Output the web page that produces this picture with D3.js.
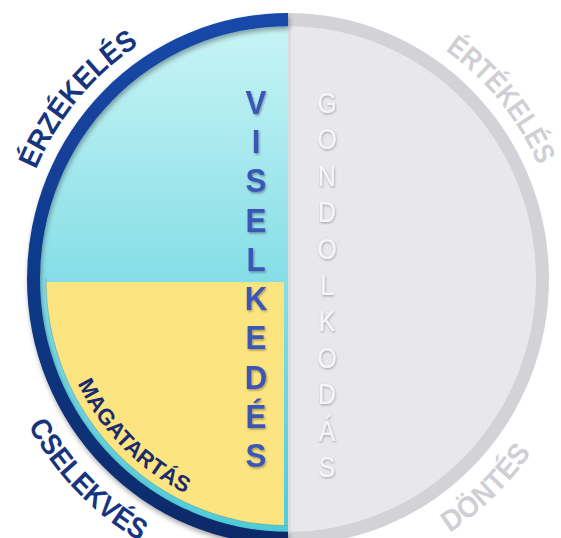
<!DOCTYPE html>
<html>
<head>
<meta charset="utf-8">
<script src="https://cdn.jsdelivr.net/npm/d3@7"></script>
<style>
  html, body { margin: 0; padding: 0; background: #fff; }
  svg { display: block; }
</style>
</head>
<body>
<div id="chart"></div>
<script>
// labels round the ring and their angular spans (degrees, 0 = 3 o'clock, clockwise)
const ringLabels = ["ÉRZÉKELÉS", "ÉRTÉKELÉS", "CSELEKVÉS", "DÖNTÉS"];
const ringFrom = [203, 305, 151, 57];
const ringTo = [237, 336, 120, 35];
const ringActive = [true, false, true, false];

// the two halves, written top to bottom
const halfWords = ["VISELKEDÉS", "GONDOLKODÁS"];
// the filled quadrant
const quadLabel = "MAGATARTÁS";
const quadFrom = 154, quadTo = 116;

const W = 561, H = 538;
const cx = 288, cy = 279;
const squash = 266 / 261; // picture is a bit taller than wide
const rOuter = 261, ringW = 13, rYellow = 242;

const svg = d3.select("#chart").append("svg")
  .attr("width", W).attr("height", H);
const defs = svg.append("defs");

let grad = (id, stops, y1, y2) => {
  let g = defs.append("linearGradient").attr("id", id)
    .attr("gradientUnits", "userSpaceOnUse")
    .attr("x1", 0).attr("x2", 0).attr("y1", y1).attr("y2", y2);
  stops.forEach(s => g.append("stop").attr("offset", s[0]).attr("stop-color", s[1]));
};
grad("cyanFill", [[0, "#cbf5f6"], [0.5, "#86dee7"], [1, "#4ccbd8"]], -rOuter, rOuter);
grad("blueRing", [[0, "#1549aa"], [1, "#0b2a68"]], -rOuter, rOuter);
grad("viselText", [[0, "#3a56b6"], [0.45, "#283f98"], [1, "#17256a"]], 85, 470);

let shadow = (id, dx, dy, blur, op) => {
  defs.append("filter").attr("id", id)
    .attr("x", "-20%").attr("y", "-20%").attr("width", "140%").attr("height", "140%")
    .append("feDropShadow")
    .attr("dx", dx).attr("dy", dy).attr("stdDeviation", blur)
    .attr("flood-color", "#000").attr("flood-opacity", op);
};
shadow("ringShadow", 1, 3, 2.5, 0.35);
shadow("textShadow", 1, 1.5, 1, 0.35);
shadow("ghostShadow", 0.6, 1.2, 1, 0.3);

defs.append("clipPath").attr("id", "yellowClip")
  .append("circle").attr("r", rYellow);

const g = svg.append("g")
  .attr("transform", `translate(${cx},${cy}) scale(1,${squash})`);

const rad = d => d * Math.PI / 180;
const arc = d3.arc();

// halves
g.append("path")
  .attr("d", arc({innerRadius: 0, outerRadius: rOuter - ringW / 2, startAngle: Math.PI, endAngle: 2 * Math.PI}))
  .attr("fill", "url(#cyanFill)");
g.append("path")
  .attr("d", arc({innerRadius: 0, outerRadius: rOuter - ringW / 2, startAngle: 0, endAngle: Math.PI}))
  .attr("fill", "#e8e8ec");
g.append("rect")
  .attr("x", 0).attr("y", -rOuter + 4).attr("width", 3).attr("height", 2 * rOuter - 8)
  .attr("fill", "#dcdce0");

// yellow quadrant
g.append("rect")
  .attr("clip-path", "url(#yellowClip)")
  .attr("x", -rYellow).attr("y", 3).attr("width", rYellow - 4).attr("height", rYellow)
  .attr("fill", "#fce580");
g.append("path")
  .attr("d", arc({innerRadius: rYellow - 0.5, outerRadius: rYellow + 0.5, startAngle: Math.PI, endAngle: 1.5 * Math.PI}))
  .attr("fill", "#5f9aa0").attr("opacity", 0.55);

// ring
g.append("path")
  .attr("d", arc({innerRadius: rOuter - ringW, outerRadius: rOuter, startAngle: 0, endAngle: Math.PI}))
  .attr("fill", "#d3d3d7");
g.append("path")
  .attr("filter", "url(#ringShadow)")
  .attr("d", arc({innerRadius: rOuter - ringW, outerRadius: rOuter, startAngle: Math.PI, endAngle: 2 * Math.PI}))
  .attr("fill", "url(#blueRing)");

// curved labels
let arcPath = (r, a0, a1) => {
  let p = d3.path();
  p.arc(0, 0, r, rad(a0), rad(a1), a1 < a0);
  return p.toString();
};

ringLabels.forEach((label, i) => {
  let ccw = ringTo[i] < ringFrom[i];
  // top labels sit on the baseline, bottom ones hang inward from it
  let r = ccw ? 297 : 274;
  let id = "ring" + i;
  defs.append("path").attr("id", id).attr("d", arcPath(r, ringFrom[i], ringTo[i]));
  g.append("text")
    .attr("font-family", "'Liberation Sans Narrow', 'Arial Narrow', 'Liberation Sans', Arial, sans-serif")
    .attr("font-weight", "bold")
    .attr("font-size", 29)
    .attr("fill", ringActive[i] ? "#17347e" : "#d0d0d4")
    .append("textPath")
    .attr("href", "#" + id)
    .attr("textLength", Math.abs(rad(ringTo[i] - ringFrom[i])) * r)
    .attr("lengthAdjust", "spacingAndGlyphs")
    .text(label);
});

defs.append("path").attr("id", "quadPath").attr("d", arcPath(234, quadFrom, quadTo));
g.append("text")
  .attr("font-family", "'Liberation Sans Narrow', 'Arial Narrow', 'Liberation Sans', Arial, sans-serif")
  .attr("font-weight", "bold")
  .attr("font-size", 22)
  .attr("fill", "#1a2a6c")
  .append("textPath")
  .attr("href", "#quadPath")
  .attr("textLength", rad(quadFrom - quadTo) * 234)
  .attr("lengthAdjust", "spacingAndGlyphs")
  .text(quadLabel);

// vertical words
const viselY = d3.scaleLinear().domain([0, halfWords[0].length - 1]).range([114, 467]);
svg.append("g")
  .attr("filter", "url(#textShadow)")
  .selectAll("text")
  .data(Array.from(halfWords[0]))
  .join("text")
  .attr("transform", (d, i) => `translate(256,${viselY(i)}) scale(0.92,1)`)
  .attr("text-anchor", "middle")
  .attr("font-family", "'Liberation Sans', Arial, sans-serif")
  .attr("font-weight", "bold")
  .attr("font-size", 34)
  .attr("fill", "url(#viselText)")
  .text(d => d);

const gondY = d3.scaleLinear().domain([0, halfWords[1].length - 1]).range([113, 477]);
svg.append("g")
  .attr("filter", "url(#ghostShadow)")
  .selectAll("text")
  .data(Array.from(halfWords[1]))
  .join("text")
  .attr("transform", (d, i) => `translate(327,${gondY(i)}) scale(0.85,1)`)
  .attr("text-anchor", "middle")
  .attr("font-family", "'Liberation Sans', Arial, sans-serif")
  .attr("font-size", 29)
  .attr("fill", "#f6f6f8")
  .text(d => d);
</script>
</body>
</html>
